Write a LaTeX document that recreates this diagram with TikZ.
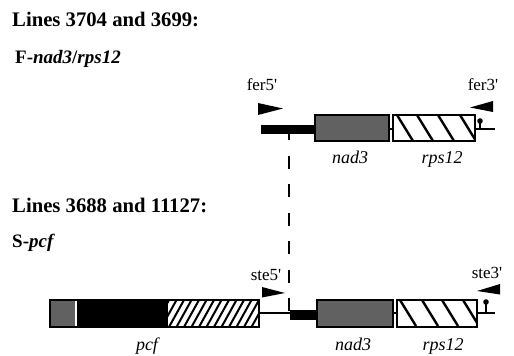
\documentclass[tikz,border=0pt]{standalone}
\usepackage{fontspec}
\setmainfont{Liberation Serif}
\usetikzlibrary{calc}
\begin{document}
\begin{tikzpicture}[x=1pt,y=-1pt,
  heading/.style={font=\fontsize{20.7}{24}\selectfont\bfseries, anchor=base west, inner sep=0pt},
  construct/.style={font=\fontsize{19}{22}\selectfont\bfseries, anchor=base west, inner sep=0pt},
  primer/.style={font=\fontsize{17}{20}\selectfont, anchor=base, inner sep=0pt},
  gene/.style={font=\fontsize{18}{21}\selectfont\itshape, anchor=base, inner sep=0pt},
  genebox/.style={draw, line width=2pt, inner sep=0pt, outer sep=0pt, minimum height=26},
  stipple/.style={genebox, fill=black!62},
  wire/.style={line width=2.2pt},
  spacer/.style={fill=black},
  primertip/.style={fill=black},
  rpshatch/.style={genebox, fill=white, path picture={
    \foreach \i in {#1}
      \draw[line width=2.4pt] ($(path picture bounding box.north west)+(\i,0)$) -- ++(16,26);}},
  cutline/.style={line width=1.8pt, dash pattern=on 13 off 15.5, dash phase=7}
]
\useasboundingbox (0,0) rectangle (514,356);

% headings
\node[heading] (h1) at (12,27) {Lines 3704 and 3699:};
\node[construct] (c1) at (15,63) {F-\textit{nad3}/\textit{rps12}};
\node[heading] (h2) at (12,212) {Lines 3688 and 11127:};
\node[construct] (c2) at (12,247) {S-\textit{pcf}};

% ---------- F-nad3/rps12 ----------
\node[spacer, inner sep=0pt, minimum width=54, minimum height=9] (fbar) at (288,129) {};
\node[stipple, minimum width=74] (fnad) at (352,128) {};
\node[rpshatch={4,24,45,67}, minimum width=82] (frps) at (434,128) {};
\coordinate (fend) at (495,129);
\coordinate (fstem) at (480,129);
\draw[wire] (fnad.east |- fend) -- (frps.west |- fend);
\draw[wire] (frps.east |- fend) -- (fend);
\draw[wire] (fstem) -- ++(0,-7);
\fill (480,121) circle (2.8);

\node[primer] (fer5) at (262,90) {fer5\textquotesingle};
\node[primer] (fer3) at (483,90) {fer3\textquotesingle};
\fill[primertip] (258,103) -- (283,108.5) -- (258,115) -- cycle;
\fill[primertip] (493,101) -- (470,107.5) -- (493,112) -- cycle;

\node[gene] (fnadl) at (350,163) {nad3};
\node[gene] (frpsl) at (442,163) {rps12};

% ---------- S-pcf ----------
\node[genebox, minimum width=209, minimum height=27, path picture={
    \coordinate (o) at (path picture bounding box.north west);
    \fill[black!62] (o) rectangle ++(25,27);
    \fill (o) ++(27,0) rectangle ++(91,27);
    \foreach \i in {104,111.5,...,215}
      \draw[line width=2pt] ($(o)+(\i,27)$) -- ++(15,-27);
  }] (pcf) at (154.5,313.5) {};
\node[spacer, inner sep=0pt, minimum width=27, minimum height=10] (sbar) at (303.5,315) {};
\node[stipple, minimum width=76, minimum height=27] (snad) at (355,313.5) {};
\node[rpshatch={3,25,45,66}, minimum width=80, minimum height=27] (srps) at (437,313.5) {};
\coordinate (send) at (495,313);
\coordinate (sstem) at (486,313);
\draw[wire] (pcf.east |- send) -- (sbar.west |- send);
\draw[wire] (snad.east |- send) -- (srps.west |- send);
\draw[wire] (srps.east |- send) -- (send);
\draw[wire] (sstem) -- ++(0,-10);
\fill (486,302) circle (2.8);

\node[primer] (ste5) at (266,280) {ste5\textquotesingle};
\node[primer] (ste3) at (487,278) {ste3\textquotesingle};
\fill[primertip] (262,287) -- (285,293) -- (262,297.5) -- cycle;
\fill[primertip] (500,284) -- (477,291) -- (500,294.5) -- cycle;

\node[gene] (pcfl) at (147,350) {pcf};
\node[gene] (snadl) at (353,350) {nad3};
\node[gene] (srpsl) at (443,350) {rps12};

% junction shared by both constructs
\coordinate (cuttop) at (289,134);
\coordinate (cutbot) at (289,313);
\draw[cutline] (cuttop) -- (cutbot);
\end{tikzpicture}
\end{document}
